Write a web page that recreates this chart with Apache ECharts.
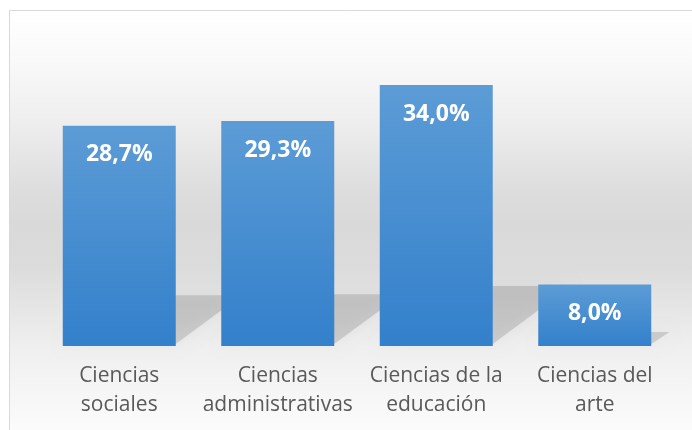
<!DOCTYPE html>
<html>
<head>
<meta charset="utf-8">
<script src="https://cdn.jsdelivr.net/npm/echarts@6/dist/echarts.min.js"></script>
<style>
  html, body { margin: 0; padding: 0; background: #fff; }
  #chart { width: 692px; height: 430px; }
</style>
</head>
<body>
<div id="chart"></div>
<script>
// datos del gráfico
var categorias = ['Ciencias\nsociales', 'Ciencias\nadministrativas', 'Ciencias de la\neducación', 'Ciencias del\narte'];
var porcentajes = [28.7, 29.3, 34.0, 8.0];
var ejeMax = 40;

var chart = echarts.init(document.getElementById('chart'));

var BAR_W = 113;

// sombra en perspectiva detrás de cada barra
function sombra(params, api) {
  var i = api.value(0);
  var base = api.coord([i, 0]);
  var tope = api.coord([i, api.value(1)]);
  var h = base[1] - tope[1];
  var sh = h * 0.23; //alto de la sombra
  var dx = h * 0.3; //inclinación
  var x0 = base[0] - BAR_W / 2;
  var x1 = base[0] + BAR_W / 2;
  return {
    type: 'polygon',
    shape: {
      points: [[x0, base[1] - 2], [x1, base[1] - 2], [x1 + dx, base[1] - sh], [x0 + dx, base[1] - sh]]
    },
    style: {
      fill: 'rgba(0,0,0,0.13)',
      shadowBlur: 14,
      shadowColor: 'rgba(0,0,0,0.25)'
    }
  };
}

var option = {
  animation: false,
  graphic: {
    elements: [
      {
        type: 'rect',
        z: -10,
        silent: true,
        shape: { x: 9.5, y: 10.5, width: 700, height: 430 },
        style: {
          stroke: '#d9d9d9',
          lineWidth: 1,
          fill: new echarts.graphic.LinearGradient(0, 0, 0, 1, [
            { offset: 0, color: '#ffffff' },
            { offset: 0.12, color: '#f9f9f9' },
            { offset: 0.26, color: '#eeeeee' },
            { offset: 0.42, color: '#dddddd' },
            { offset: 0.5, color: '#d9d9d9' },
            { offset: 0.6, color: '#dcdcdc' },
            { offset: 0.78, color: '#efefef' },
            { offset: 1, color: '#fdfdfd' }
          ])
        }
      }
    ]
  },
  grid: {
    left: 40,
    right: 18,
    top: 39,
    bottom: 84,
    containLabel: false
  },
  xAxis: {
    type: 'category',
    data: categorias,
    axisLine: { show: false },
    axisTick: { show: false },
    axisLabel: {
      interval: 0,
      margin: 16,
      color: '#595959',
      fontFamily: 'Open Sans',
      fontSize: 21,
      lineHeight: 29
    }
  },
  yAxis: {
    type: 'value',
    min: 0,
    max: ejeMax,
    show: false,
    splitLine: { show: false }
  },
  series: [
    {
      type: 'custom',
      z: 1,
      silent: true,
      renderItem: sombra,
      data: porcentajes.map(function (v, i) { return [i, v]; })
    },
    {
      type: 'bar',
      z: 3,
      barWidth: BAR_W,
      data: porcentajes,
      itemStyle: {
        color: new echarts.graphic.LinearGradient(0, 0, 0, 1, [
          { offset: 0, color: '#5c9cd6' },
          { offset: 1, color: '#3380cb' }
        ])
      },
      label: {
        show: true,
        position: 'insideTop',
        distance: 17,
        color: '#ffffff',
        fontFamily: 'Open Sans',
        fontWeight: 'bold',
        fontSize: 23,
        lineHeight: 24,
        formatter: function (p) {
          return p.value.toFixed(1).replace('.', ',') + '%';
        }
      }
    }
  ]
};

chart.setOption(option);
</script>
</body>
</html>
